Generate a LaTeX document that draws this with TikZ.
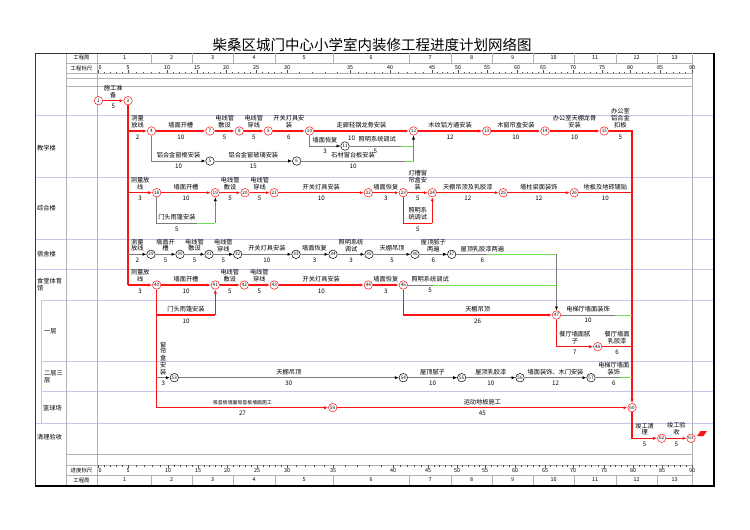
\documentclass[tikz,border=0pt]{standalone}
\usepackage{fontspec}
\setmainfont{Noto Sans CJK SC}
\usepackage{tikz}
\usetikzlibrary{arrows.meta}

\definecolor{gridblue}{RGB}{198,198,236}
\definecolor{floatgreen}{RGB}{110,225,80}
\definecolor{linegrey}{RGB}{125,125,125}
\definecolor{critred}{RGB}{250,20,20}

\begin{document}
\begin{tikzpicture}[x=1pt, y=-1pt,
  lbl/.style={inner sep=0pt, font=\fontsize{6.2}{6.8}\selectfont},
  act/.style={lbl, above=2.5pt, align=center},
  dur/.style={lbl, below=3pt},
  rul/.style={inner sep=0pt, font=\fontsize{5.4}{6}\selectfont},
  ev/.style={circle, draw=critred, line width=0.5pt, fill=white, inner sep=0pt,
    minimum size=8.5pt, font=\fontsize{4.6}{5}\selectfont},
  evn/.style={ev, draw=black},
  crit/.style={draw=critred, line width=1.2pt},
  crita/.style={crit, -{Latex[length=4pt,width=3.2pt]}},
  nc/.style={draw=linegrey, line width=0.6pt},
  nca/.style={nc, -{Latex[length=4pt,width=3.2pt,color=black]}},
  fl/.style={draw=floatgreen, line width=0.8pt},
  gridl/.style={draw=gridblue, line width=0.8pt},
  frm/.style={draw=gray!60, line width=0.7pt},
  tickl/.style={draw=black!70, line width=0.4pt},
]
\useasboundingbox (0,0) rectangle (750,530);

% Title
\node[font=\fontsize{14.5}{15}\selectfont] (title) at (372,45)
  {柴桑区城门中心小学室内装修工程进度计划网络图};

% Grid and frame
\foreach \yy/\xs in {115/35,177/35,239/35,269/35,300/41,361/41,391/41,423/35}
  \draw[gridl] (\xs,\yy) -- (713,\yy);
\draw[gridl] (41,300) -- (41,423);
\foreach \yy in {63,73,78,86,454,465,475}
  \draw[frm] (66,\yy) -- (692,\yy);
\foreach \xx in {66,97.5,692}
  \draw[frm] (\xx,53) -- (\xx,485);
\draw[black!80, line width=0.7pt] (35,53) rectangle (713,485);
\draw[black, line width=2pt] (713.5,53) -- (713.5,485.5) -- (35,485.5);

% Row titles
\node[lbl, anchor=west] (cjx) at (37,148) {教学楼};
\node[lbl, anchor=west] (czh) at (37,208) {综合楼};
\node[lbl, anchor=west] (css) at (37,254) {宿舍楼};
\node[lbl, anchor=west, align=left] (cst) at (37,284.5) {食堂体育\\馆};
\node[lbl, anchor=west] (cyc) at (44,331) {一层};
\node[lbl, anchor=west, align=left] (cec) at (44,376.5) {二层三\\层};
\node[lbl, anchor=west] (clq) at (43,408) {篮球场};
\node[lbl, anchor=west] (cql) at (37,437) {清理验收};

% Week rows and rulers
\node[rul] (wkt) at (81.5,58) {工程周};
\node[rul] (rlt) at (81.5,68) {工程标尺};
\node[rul] (rlb) at (81.5,470) {进度标尺};
\node[rul] (wkb) at (81.5,480) {工程周};
\foreach \wk/\xa/\xb in {1/98/151,2/151/192,3/192/233,4/233/275,5/275/333,6/333/409,
    7/409/451,8/451/492,9/492/533,10/533/574,11/574/616,12/616/657,13/657/692} {
  \draw[frm] (\xb,53) -- (\xb,63);
  \draw[frm] (\xb,475) -- (\xb,485);
  \node[rul] (wt\wk) at ({(\xa+\xb)/2},58) {\wk};
  \node[rul] (wb\wk) at ({(\xa+\xb)/2},480) {\wk};
}
\node[rul] (rt0) at (100,67.5) {0};
\draw[tickl] (98,73) -- ++(0,-3);
\foreach \dd/\px [remember=\px as \lx (initially 98)] in {5/128,10/167,15/197,20/226,
    25/256,30/287,35/350,40/390,45/432,50/458,55/487,60/517,65/543,70/573,75/602,
    80/630,85/660,90/692} {
  \foreach \kk in {1,...,4}
    \draw[tickl] ({\lx+(\px-\lx)*\kk/5},73) -- ++(0,-1.5);
  \draw[tickl] (\px,73) -- ++(0,-3);
  \node[rul] (rt\dd) at (\px,67.5) {\dd};
}
\node[rul] (rb0) at (100,470.5) {0};
\draw[tickl] (98,465) -- ++(0,3);
\foreach \dd/\px [remember=\px as \lx (initially 98)] in {5/128,10/168,15/198,20/227,
    25/257,30/287,35/333,40/393,45/428,50/457,55/485,60/515,65/545,70/573,75/604,
    80/633,85/662,90/692} {
  \foreach \kk in {1,...,4}
    \draw[tickl] ({\lx+(\px-\lx)*\kk/5},465) -- ++(0,1.5);
  \draw[tickl] (\px,465) -- ++(0,3);
  \node[rul] (rb\dd) at (\px,470.5) {\dd};
}

% Events
\node[ev] (n1) at (98.5,100.7) {1};
\node[ev] (n3) at (128,100.7) {3};
\node[ev] (n4) at (151.5,131) {4};
\node[evn] (n5) at (210,161) {5};
\node[evn] (n6) at (296.7,161) {6};
\node[ev] (n7) at (210,131) {7};
\node[ev] (n8) at (239.3,131) {8};
\node[ev] (n9) at (268.3,131) {9};
\node[ev] (n10) at (309.5,131) {10};
\node[evn] (n11) at (345,146) {11};
\node[ev] (n12) at (413.5,131) {12};
\node[ev] (n13) at (486.7,131) {13};
\node[ev] (n14) at (545,131) {14};
\node[ev] (n15) at (604.3,131) {15};
\node[ev] (n18) at (156.7,192.7) {18};
\node[ev] (n19) at (215.3,192.7) {19};
\node[ev] (n20) at (245,192.7) {20};
\node[ev] (n21) at (274.3,192.7) {21};
\node[ev] (n22) at (368.3,192.7) {22};
\node[ev] (n23) at (403.3,192.7) {23};
\node[ev] (n24) at (432.3,192.7) {24};
\node[ev] (n25) at (503.3,192.7) {25};
\node[ev] (n26) at (574.3,192.7) {26};
\node[evn] (n29) at (151,254.3) {29};
\node[evn] (n30) at (180,254.3) {30};
\node[evn] (n31) at (209,254.3) {31};
\node[evn] (n32) at (237.7,254.3) {32};
\node[evn] (n33) at (296,254.3) {33};
\node[evn] (n34) at (333,254.3) {34};
\node[evn] (n35) at (369,254.3) {35};
\node[evn] (n36) at (415,254.3) {36};
\node[evn] (n37) at (451.7,254.3) {37};
\node[ev] (n40) at (156.7,285) {40};
\node[ev] (n41) at (215.3,285) {41};
\node[ev] (n42) at (244.3,285) {42};
\node[ev] (n43) at (274.3,285) {43};
\node[ev] (n44) at (368.3,285) {44};
\node[ev] (n45) at (403.3,285) {45};
\node[ev] (n47) at (556.5,315) {47};
\node[ev] (n48) at (597.7,346.7) {48};
\node[evn] (n53) at (174.3,377.7) {53};
\node[evn] (n54) at (403.3,377.7) {54};
\node[evn] (n55) at (461.7,377.7) {55};
\node[evn] (n56) at (520,377.7) {56};
\node[evn] (n57) at (591,377.7) {57};
\node[ev] (n59) at (332.7,407.7) {59};
\node[ev] (n60) at (632,407.7) {60};
\node[ev] (n62) at (661.7,438.3) {62};
\node[ev] (n63) at (691,438.3) {63};

% Turning points
\coordinate (tA) at (128,131);
\coordinate (tB) at (128,192.7);
\coordinate (tC) at (128,254.3);
\coordinate (tD) at (128,285);
\coordinate (bA1) at (151.5,161);
\coordinate (gA1) at (405,161);
\coordinate (jA1) at (413.5,161);
\coordinate (bA2) at (309.5,146);
\coordinate (gA2) at (401,146);
\coordinate (jA2) at (413.5,146);
\coordinate (cA) at (632,131);
\coordinate (bB1) at (156.7,223.3);
\coordinate (gB1) at (197,223.3);
\coordinate (jB1) at (215.3,223.3);
\coordinate (bB2) at (403.3,223.3);
\coordinate (jB2) at (432.3,223.3);
\coordinate (cB) at (632,192.7);
\coordinate (gC) at (486.7,254.3);
\coordinate (cC) at (556.5,254.3);
\coordinate (gD) at (433,285);
\coordinate (cD) at (556.5,285);
\coordinate (bD1) at (156.7,315);
\coordinate (jD1) at (215.3,315);
\coordinate (bD2) at (403.3,315);
\coordinate (gE) at (615,315);
\coordinate (cE) at (632,315);
\coordinate (bE) at (556.5,346.7);
\coordinate (cE2) at (632,346.7);
\coordinate (bF) at (156.7,377.7);
\coordinate (gF) at (620,377.7);
\coordinate (cF) at (632,377.7);
\coordinate (bG) at (156.7,407.7);
\coordinate (bH) at (632,438.3);

% Preparation
\draw[crita] (n1) -- (n3) node[midway,act]{施工准\\备} node[midway,dur]{5};
\draw[crit] (n3) -- (tD);

% Teaching building
\draw[crita] (tA) -- (n4) node[midway,act]{测量\\放线} node[midway,dur]{2};
\draw[crita] (n4) -- (n7) node[midway,act]{墙面开槽} node[midway,dur]{10};
\draw[crita] (n7) -- (n8) node[midway,act]{电线管\\敷设} node[midway,dur]{5};
\draw[crita] (n8) -- (n9) node[midway,act]{电线管\\穿线} node[midway,dur]{5};
\draw[crita] (n9) -- (n10) node[midway,act]{开关灯具安\\装} node[midway,dur]{6};
\draw[crita] (n10) -- (n12) node[midway,act]{走廊轻钢龙骨安装}
  node[midway,dur,below=1.2pt,xshift=-10pt]{10};
\draw[crita] (n12) -- (n13) node[midway,act]{木纹铝方通安装} node[midway,dur]{12};
\draw[crita] (n13) -- (n14) node[midway,act]{木窗帘盒安装} node[midway,dur]{10};
\draw[crita] (n14) -- (n15) node[midway,act]{办公室天棚龙骨\\安装} node[midway,dur]{10};
\draw[crita] (n15) -- (cA) node[midway,act]{办公室\\铝合金\\扣板} node[midway,dur]{5} -- (n60);
\draw[nca] (n4) -- (bA1) -- (n5) node[midway,act]{铝合金窗框安装} node[midway,dur]{10};
\draw[nca] (n5) -- (n6) node[midway,act]{铝合金窗玻璃安装} node[midway,dur]{15};
\draw[nc] (n6) -- (gA1) node[midway,act]{石材窗台板安装} node[midway,dur]{10};
\draw[fl] (gA1) -- (jA1);
\draw[nca] (n10) -- (bA2) -- (n11) node[midway,act]{墙面恢复} node[midway,dur]{3};
\draw[nc] (n11) -- (gA2) node[midway,act,above=1.2pt,xshift=2pt]{照明系统调试}
  node[midway,dur]{5};
\draw[fl] (gA2) -- (jA2);
\draw[nca] (jA1) -- (n12);

% Complex building
\draw[crita] (tB) -- (n18) node[midway,act]{测量放\\线} node[midway,dur]{3};
\draw[crita] (n18) -- (n19) node[midway,act]{墙面开槽} node[midway,dur]{10};
\draw[crita] (n19) -- (n20) node[midway,act]{电线管\\敷设} node[midway,dur]{5};
\draw[crita] (n20) -- (n21) node[midway,act]{电线管\\穿线} node[midway,dur]{5};
\draw[crita] (n21) -- (n22) node[midway,act]{开关灯具安装} node[midway,dur]{10};
\draw[crita] (n22) -- (n23) node[midway,act]{墙面恢复} node[midway,dur]{3};
\draw[crita] (n23) -- (n24) node[midway,act]{灯槽窗\\帘盒安\\装} node[midway,dur]{5};
\draw[crita] (n24) -- (n25) node[midway,act]{天棚吊顶及乳胶漆} node[midway,dur]{12};
\draw[crita] (n25) -- (n26) node[midway,act]{墙柱梁面装饰} node[midway,dur]{12};
\draw[crit] (n26) -- (cB) node[midway,act]{地板及地砖铺贴} node[midway,dur]{10};
\draw[nc] (n18) -- (bB1) -- (gB1) node[midway,act]{门头雨篷安装} node[midway,dur]{5};
\draw[fl] (gB1) -- (jB1);
\draw[nca] (jB1) -- (n19);
\draw[crit] (n23) -- (bB2) -- (jB2) node[midway,act]{照明系\\统调试} node[midway,dur]{5};
\draw[crita] (jB2) -- (n24);

% Dormitory
\draw[nca] (tC) -- (n29) node[midway,act]{测量\\放线} node[midway,dur]{2};
\draw[nca] (n29) -- (n30) node[midway,act]{墙面开\\槽} node[midway,dur]{5};
\draw[nca] (n30) -- (n31) node[midway,act]{电线管\\敷设} node[midway,dur]{5};
\draw[nca] (n31) -- (n32) node[midway,act]{电线管\\穿线} node[midway,dur]{5};
\draw[nca] (n32) -- (n33) node[midway,act]{开关灯具安装} node[midway,dur]{10};
\draw[nca] (n33) -- (n34) node[midway,act]{墙面恢复} node[midway,dur]{3};
\draw[nca] (n34) -- (n35) node[midway,act]{照明系统\\调试} node[midway,dur]{3};
\draw[nca] (n35) -- (n36) node[midway,act]{天棚吊顶} node[midway,dur]{5};
\draw[nca] (n36) -- (n37) node[midway,act]{屋顶腻子\\两遍} node[midway,dur]{6};
\draw[nc] (n37) -- (gC);
\draw[fl] (gC) -- (cC);
\path (n37) -- (cC) node[pos=0.26,act]{屋顶乳胶漆两遍} node[pos=0.26,dur]{6};
\draw[nca] (cC) -- (n47);

% Canteen and gym
\draw[crita] (tD) -- (n40) node[midway,act]{测量放\\线} node[midway,dur]{3};
\draw[crita] (n40) -- (n41) node[midway,act]{墙面开槽} node[midway,dur]{10};
\draw[crita] (n41) -- (n42) node[midway,act]{电线管\\敷设} node[midway,dur]{5};
\draw[crita] (n42) -- (n43) node[midway,act]{电线管\\穿线} node[midway,dur]{5};
\draw[crita] (n43) -- (n44) node[midway,act]{开关灯具安装} node[midway,dur]{10};
\draw[crita] (n44) -- (n45) node[midway,act]{墙面恢复} node[midway,dur]{3};
\draw[nc] (n45) -- (gD);
\draw[fl] (gD) -- (cD);
\path (n45) -- (cD) node[pos=0.15,act]{照明系统调试} node[pos=0.15,dur]{5};
\draw[crit] (bD1) -- (jD1) node[midway,act]{门头雨篷安装} node[midway,dur]{10};
\draw[crita] (jD1) -- (n41);
\draw[crita] (n45) -- (bD2) -- (n47) node[midway,act]{天棚吊顶} node[midway,dur]{26};

% First floor
\draw[nc] (n47) -- (gE) node[midway,act]{电梯厅墙面装饰} node[midway,dur]{10};
\draw[fl] (gE) -- (cE);
\draw[crita] (n47) -- (bE) -- (n48) node[midway,act]{餐厅墙面腻\\子} node[midway,dur]{7};
\draw[crit] (n48) -- (cE2) node[midway,act]{餐厅墙面\\乳胶漆} node[midway,dur]{6};

% Second and third floor
\draw[nca] (bF) -- (n53) node[midway,act]{窗\\帘\\盒\\安\\装} node[midway,dur]{3};
\draw[nca] (n53) -- (n54) node[midway,act]{天棚吊顶} node[midway,dur]{30};
\draw[nca] (n54) -- (n55) node[midway,act]{屋顶腻子} node[midway,dur]{10};
\draw[nca] (n55) -- (n56) node[midway,act]{屋顶乳胶漆} node[midway,dur]{10};
\draw[nca] (n56) -- (n57) node[midway,act]{墙面装饰、木门安装} node[midway,dur]{12};
\draw[nc] (n57) -- (gF);
\draw[fl] (gF) -- (cF);
\path (n57) -- (cF) node[midway,act]{电梯厅墙面\\装饰} node[midway,dur]{6};

% Basketball court
\draw[crita] (n40) -- (bG) -- (n59)
  node[midway,act,font=\fontsize{4.9}{5.5}\selectfont]{吸音板墙面吸音板墙面施工}
  node[midway,dur]{27};
\draw[crita] (n59) -- (n60) node[midway,act]{运动地板施工} node[midway,dur]{45};

% Cleaning and acceptance
\draw[crita] (n60) -- (bH) -- (n62) node[midway,act]{竣工清\\理} node[midway,dur]{5};
\draw[crita] (n62) -- (n63) node[midway,act]{竣工验\\收} node[midway,dur]{5};
\fill[critred] (697,436) -- (700.5,431) -- (707,431) -- (703.5,436) -- cycle;
\end{tikzpicture}
\end{document}
